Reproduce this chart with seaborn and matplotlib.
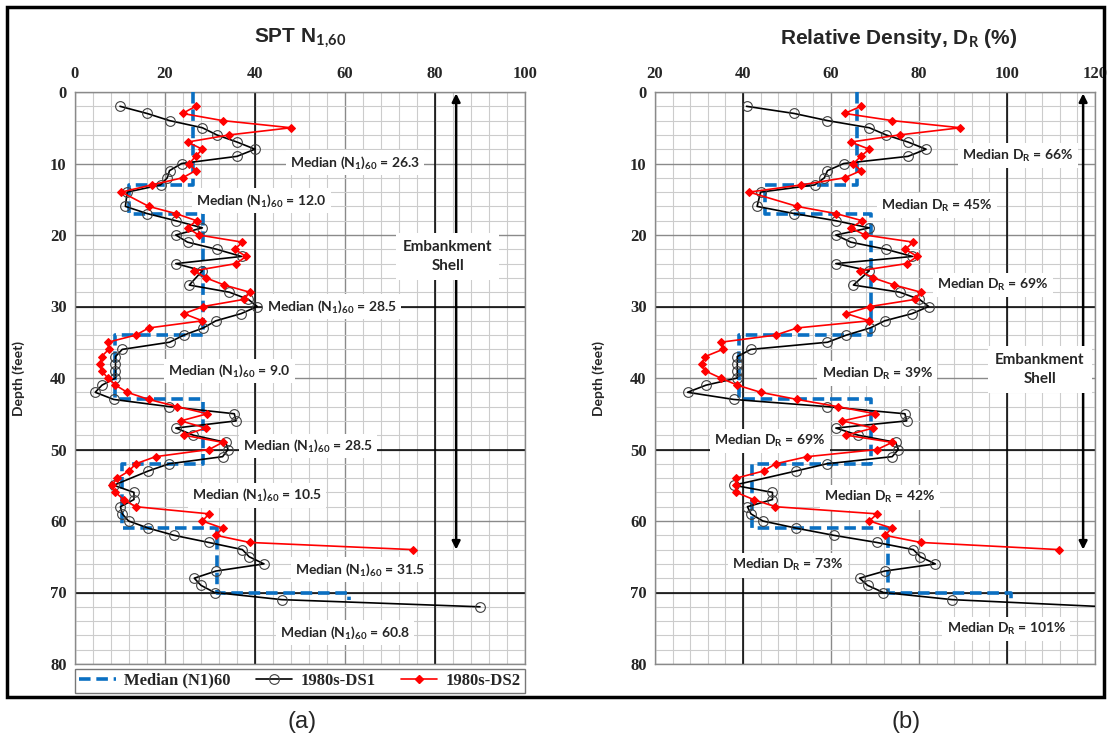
import numpy as np
import pandas as pd
import matplotlib
matplotlib.use("Agg")
import matplotlib.pyplot as plt
import seaborn as sns
from matplotlib.lines import Line2D
from matplotlib.patches import Rectangle

# ---------------- data ----------------
ds1_depth = [2, 3, 4, 5, 6, 7, 8, 9, 10, 11, 12, 13, 14, 16, 17, 18, 19, 20, 21, 22,
             23, 24, 25, 27, 28, 29, 30, 31, 32, 33, 34, 35, 36, 37, 38, 39, 40, 41,
             42, 43, 44, 45, 46, 47, 48, 49, 50, 51, 52, 53, 55, 56, 57, 58, 59, 60,
             61, 62, 63, 64, 65, 66, 67, 68, 69, 70, 71, 72]
ds1_n160 = [10, 16, 21, 28.3, 31.5, 36, 40, 36, 23.7, 21, 20.5, 19, 11.6, 11.2, 16, 22.4,
            28.3, 22.4, 25, 31.5, 37, 22.4, 28.3, 25.4, 34.3, 38.5, 40.5, 36.9, 31.3,
            28.5, 24.2, 21, 10.5, 9, 9, 9, 9, 6, 4.5, 8.6, 20.9, 35.4, 35.8, 22.4, 26.3,
            33.5, 34, 32.8, 20.9, 16.3, 8.6, 13.1, 13.1, 10.1, 10.5, 11.9, 16.3, 22,
            29.7, 37.2, 38.7, 42, 31.3, 26.5, 28, 31, 46, 90]
ds1_dr = [40.8, 51.6, 59.2, 68.7, 72.5, 77.5, 81.6, 77.5, 62.9, 59.2, 58.5, 56.3, 44.0,
          43.2, 51.6, 61.1, 68.7, 61.1, 64.5, 72.5, 78.5, 61.1, 68.7, 65.1, 75.6, 80.1,
          82.2, 78.4, 72.2, 68.9, 63.5, 59.2, 41.8, 38.7, 38.7, 38.7, 38.7, 31.6, 27.4,
          37.9, 59.0, 76.8, 77.2, 61.1, 66.2, 74.7, 75.3, 73.9, 59.0, 52.1, 37.9, 46.7,
          46.7, 41.0, 41.8, 44.5, 52.1, 60.6, 70.4, 78.7, 80.3, 83.7, 72.2, 66.5, 68.3,
          71.9, 87.6, 122.5]

ds2_depth = [2, 3, 4, 5, 6, 7, 8, 9, 10, 11, 12, 13, 14, 16, 17, 18, 19, 20, 21, 22,
             23, 24, 25, 26, 27, 28, 29, 30, 31, 32, 33, 34, 35, 36, 37, 38, 39, 40,
             41, 42, 43, 44, 45, 46, 47, 48, 49, 50, 51, 52, 53, 54, 55, 56, 57, 58,
             59, 60, 61, 62, 63, 64]
ds2_n160 = [26.8, 23.9, 32.8, 48, 34.3, 25, 28.3, 26.8, 25.4, 26.8, 23.9, 17, 10.3, 16.4,
            22.4, 27, 25, 27.5, 37.2, 35.5, 38, 35.8, 26.5, 29.1, 33.2, 38.8, 37.6, 28.5,
            24.2, 28.3, 16.4, 13.5, 7.3, 7.5, 5.9, 5.6, 5.9, 7.3, 9, 11.6, 16.4, 22.7,
            29.4, 23.5, 29.1, 24.2, 32.8, 29.8, 17.9, 13.5, 12, 9.4, 8.2, 9.0, 10.8, 13.5,
            29.8, 28.3, 32.8, 31.3, 38.8, 75]
ds2_dr = [66.8, 63.1, 73.9, 89.4, 75.6, 64.5, 68.7, 66.8, 65.1, 66.8, 63.1, 53.2, 41.4,
          52.3, 61.1, 67.1, 64.5, 67.7, 78.7, 76.9, 79.6, 77.2, 66.5, 69.6, 74.4, 80.4,
          79.2, 68.9, 63.5, 68.7, 52.3, 47.4, 34.9, 35.4, 31.4, 30.6, 31.4, 34.9, 38.7,
          44.0, 52.3, 61.5, 70.0, 62.6, 69.6, 63.5, 73.9, 70.5, 54.6, 47.4, 44.7, 38.5,
          38.5, 38.5, 42.4, 47.3, 70.5, 68.7, 73.9, 72.2, 80.4, 111.8]

med_top = [0, 13, 17, 34, 43, 52, 61, 70]
med_bot = [13, 17, 34, 43, 52, 61, 70, 71]
med_n160 = [26.3, 12.0, 28.5, 9.0, 28.5, 10.5, 31.5, 60.8]
med_dr = [66, 45, 69, 39, 69, 42, 73, 101]

# label positions (value, depth)
lab_n_x = [62.2, 41.4, 57.0, 34.3, 51.7, 40.5, 63.3, 60.0]
lab_n_y = [9.9, 15.2, 30.0, 39.0, 49.5, 56.4, 66.8, 75.6]
lab_d_x = [102.5, 84.1, 96.8, 70.5, 46.1, 71.1, 50.2, 99.8]
lab_d_y = [8.9, 15.9, 27.0, 39.4, 48.8, 56.7, 66.2, 75.1]

x_ticks_n = [0, 20, 40, 60, 80, 100]
x_ticks_d = [20, 40, 60, 80, 100, 120]
y_ticks = [0, 10, 20, 30, 40, 50, 60, 70, 80]

# ---------------- style ----------------
sns.set_style("white")
plt.rcParams['font.family'] = ['Liberation Sans', 'DejaVu Sans']
plt.rcParams['mathtext.fontset'] = 'custom'
plt.rcParams['mathtext.rm'] = 'Lato:bold'
plt.rcParams['mathtext.it'] = 'Lato:bold'
plt.rcParams['mathtext.bf'] = 'Lato:bold'

W, H = 1109, 745
fig = plt.figure(figsize=(W / 100, H / 100), dpi=100)
fig.patch.set_facecolor('white')

def fx(px):
    return px / W

def fy(py):
    return 1 - py / H

axA = fig.add_axes([fx(75), fy(664), fx(525) - fx(75), fy(92) - fy(664)])
axB = fig.add_axes([fx(655), fy(664), fx(1095) - fx(655), fy(92) - fy(664)])

BLUE = '#0a6fc2'
RED = '#ff0000'


def step_path(vals, tops, bots):
    xs, ys = [], []
    for v, t, b in zip(vals, tops, bots):
        xs += [v, v]
        ys += [t, b]
    return pd.DataFrame({'v': xs, 'd': ys})


def setup(ax, xlim, xticks, black_x):
    ax.set_xlim(*xlim)
    ax.set_ylim(80, 0)
    ax.set_xticks(xticks)
    ax.set_yticks(y_ticks)
    ax.set_xticks(np.arange(xlim[0], xlim[1] + 0.1, 4), minor=True)
    ax.set_yticks(np.arange(0, 80.1, 2), minor=True)
    ax.xaxis.tick_top()
    ax.tick_params(which='both', length=0)
    ax.tick_params(axis='x', pad=7)
    ax.tick_params(axis='y', pad=6)
    for lab in ax.get_xticklabels() + ax.get_yticklabels():
        lab.set_fontfamily('Liberation Serif')
        lab.set_fontweight('bold')
        lab.set_fontsize(12)
    ax.set_axisbelow(True)
    ax.grid(which='minor', color='#cccccc', lw=0.8, zorder=0)
    ax.grid(which='major', color='#8a8a8a', lw=1.0, zorder=0)
    for xv in black_x:
        ax.axvline(xv, color='black', lw=1.1, zorder=1)
    for yv in [30, 50, 70]:
        ax.axhline(yv, color='black', lw=1.1, zorder=1)
    for s in ax.spines.values():
        s.set_color('#8a8a8a')
        s.set_linewidth(1.0)
    ax.set_xlabel('')
    ax.set_ylabel('Depth (feet)', fontfamily='Lato', fontweight='bold', fontsize=10)


def draw(ax, med_vals, d1, d2):
    med = step_path(med_vals, med_top, med_bot)
    sns.lineplot(data=med, x='v', y='d', sort=False, estimator=None, ax=ax,
                 color=BLUE, lw=2.6, zorder=4)
    ax.lines[-1].set_dashes((3.2, 1.6))
    df1 = pd.DataFrame({'v': d1, 'd': ds1_depth})
    sns.lineplot(data=df1, x='v', y='d', sort=False, estimator=None, ax=ax,
                 color='black', lw=1.2, marker='o', markersize=7,
                 markerfacecolor='none', markeredgecolor='#404040',
                 markeredgewidth=0.8, zorder=5)
    df2 = pd.DataFrame({'v': d2, 'd': ds2_depth})
    sns.lineplot(data=df2, x='v', y='d', sort=False, estimator=None, ax=ax,
                 color=RED, lw=1.2, marker='D', markersize=3.8,
                 markerfacecolor=RED, markeredgecolor=RED, zorder=6)


labfont = dict(fontfamily='Lato', fontweight='bold', fontsize=10, ha='center',
               va='center', zorder=3,
               bbox=dict(facecolor='white', edgecolor='none', pad=3))

# ---------- panel (a) ----------
draw(axA, med_n160, ds1_n160, ds2_n160)
setup(axA, (0, 100), x_ticks_n, [40, 80])
for v, x, y in zip(med_n160, lab_n_x, lab_n_y):
    axA.text(x, y, r"Median (N$_1$)$_{60}$ = %.1f" % v, **labfont)
axA.annotate('', xy=(84.7, 0.2), xytext=(84.7, 64),
             arrowprops=dict(arrowstyle='<|-|>', color='black', lw=1.8,
                             mutation_scale=12, shrinkA=0, shrinkB=0), zorder=2)
axA.text(82.8, 23, 'Embankment\nShell', fontfamily='Lato', fontweight='bold',
         fontsize=11, ha='center', va='center', linespacing=1.5, zorder=3,
         bbox=dict(facecolor='white', edgecolor='none', pad=5))
axA.yaxis.set_label_coords(-0.111, 0.5)

# ---------- panel (b) ----------
draw(axB, med_dr, ds1_dr, ds2_dr)
setup(axB, (20, 120), x_ticks_d, [40, 100])
for v, x, y in zip(med_dr, lab_d_x, lab_d_y):
    axB.text(x, y, r"Median D$_R$ = %d%%" % v, **labfont)
axB.annotate('', xy=(117.3, 0.2), xytext=(117.3, 64),
             arrowprops=dict(arrowstyle='<|-|>', color='black', lw=1.8,
                             mutation_scale=12, shrinkA=0, shrinkB=0), zorder=2)
axB.text(107.5, 38.8, 'Embankment\nShell', fontfamily='Lato', fontweight='bold',
         fontsize=11, ha='center', va='center', linespacing=1.5, zorder=3,
         bbox=dict(facecolor='white', edgecolor='none', pad=5))
axB.yaxis.set_label_coords(-0.114, 0.5)

for ax in (axA, axB):
    leg = ax.get_legend()
    if leg is not None:
        leg.remove()

# ---------- titles ----------
fig.text(fx(300), fy(38), r"SPT N$_{1{,}60}$", fontfamily='Liberation Sans',
         fontweight='bold', fontsize=15, ha='center', va='center')
fig.text(fx(899), fy(38), r"Relative Density, D$_R$ (%)", fontfamily='Liberation Sans',
         fontweight='bold', fontsize=15, ha='center', va='center')

# ---------- legend ----------
handles = [
    Line2D([], [], color=BLUE, lw=2.6, dashes=(3.2, 1.6)),
    Line2D([], [], color='black', lw=1.2, marker='o', markersize=7,
           markerfacecolor='none', markeredgecolor='#404040', markeredgewidth=0.8),
    Line2D([], [], color=RED, lw=1.2, marker='D', markersize=3.8,
           markerfacecolor=RED, markeredgecolor=RED),
]
labels = ['Median (N1)60', '1980s-DS1', '1980s-DS2']
leg = fig.legend(handles, labels, loc='lower left',
                 bbox_to_anchor=(fx(75), fy(693), fx(525) - fx(75), fy(668) - fy(693)),
                 mode='expand', ncol=3, frameon=True, fancybox=False,
                 edgecolor='#555555', borderaxespad=0, borderpad=0.25,
                 handlelength=2.2, handletextpad=0.5, columnspacing=1.0,
                 prop={'family': 'Liberation Serif', 'weight': 'bold', 'size': 12})
leg.get_frame().set_linewidth(1.0)

# ---------- sub labels ----------
fig.text(fx(302), fy(722), '(a)', fontfamily='Liberation Sans', fontsize=17,
         ha='center', va='center')
fig.text(fx(906), fy(722), '(b)', fontfamily='Liberation Sans', fontsize=17,
         ha='center', va='center')

# ---------- outer frame ----------
fig.add_artist(Rectangle((fx(7), fy(697)), fx(1104) - fx(7), fy(7) - fy(697),
                         transform=fig.transFigure, fill=False, lw=2.5,
                         ec='black'))

fig.savefig('out.png', dpi=100, facecolor='white')
